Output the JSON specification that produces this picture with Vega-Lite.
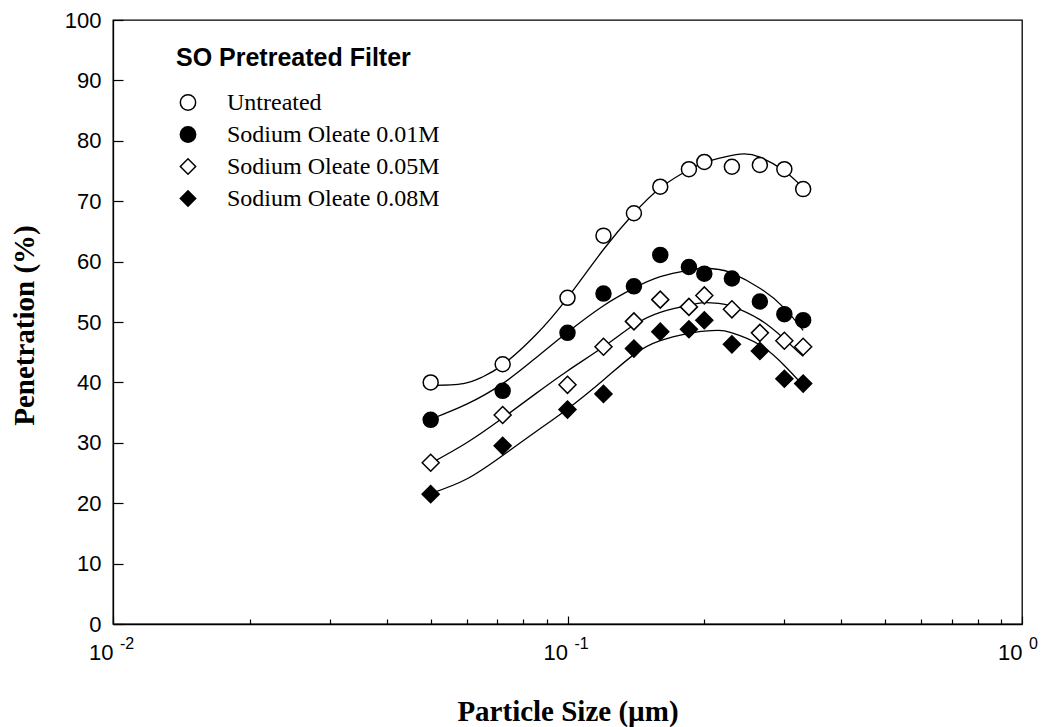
{
  "$schema": "https://vega.github.io/schema/vega-lite/v6.json",
  "width": 909,
  "height": 604,
  "autosize": {"type": "none"},
  "padding": {"left": 113, "top": 20, "right": 22, "bottom": 103},
  "background": "white",
  "config": {
    "view": {"stroke": "black", "strokeWidth": 1.3},
    "axis": {"domainColor": "black", "domainWidth": 1.3, "tickColor": "black", "tickWidth": 1.2, "labelColor": "black", "titleColor": "black", "grid": false},
    "legend": {
      "orient": "none",
      "legendX": 63,
      "legendY": 26,
      "padding": 0,
      "titleFont": "Liberation Sans",
      "titleFontSize": 25,
      "titleFontWeight": "bold",
      "titleColor": "black",
      "titlePadding": 19.5,
      "titleLimit": 0,
      "labelFont": "Liberation Serif",
      "labelFontSize": 24,
      "labelColor": "black",
      "labelLimit": 0,
      "labelOffset": 27,
      "rowPadding": 8,
      "symbolSize": 235,
      "symbolStrokeWidth": 1.5
    }
  },
  "datasets": {
    "points": [
      {"size_um": 0.05, "pen": 40.0, "series": "Untreated"},
      {"size_um": 0.072, "pen": 43.0, "series": "Untreated"},
      {"size_um": 0.1, "pen": 54.0, "series": "Untreated"},
      {"size_um": 0.12, "pen": 64.3, "series": "Untreated"},
      {"size_um": 0.14, "pen": 68.0, "series": "Untreated"},
      {"size_um": 0.16, "pen": 72.4, "series": "Untreated"},
      {"size_um": 0.185, "pen": 75.3, "series": "Untreated"},
      {"size_um": 0.2, "pen": 76.5, "series": "Untreated"},
      {"size_um": 0.23, "pen": 75.7, "series": "Untreated"},
      {"size_um": 0.265, "pen": 76.0, "series": "Untreated"},
      {"size_um": 0.3, "pen": 75.3, "series": "Untreated"},
      {"size_um": 0.33, "pen": 72.0, "series": "Untreated"},
      {"size_um": 0.05, "pen": 33.8, "series": "Sodium Oleate 0.01M"},
      {"size_um": 0.072, "pen": 38.6, "series": "Sodium Oleate 0.01M"},
      {"size_um": 0.1, "pen": 48.2, "series": "Sodium Oleate 0.01M"},
      {"size_um": 0.12, "pen": 54.7, "series": "Sodium Oleate 0.01M"},
      {"size_um": 0.14, "pen": 55.9, "series": "Sodium Oleate 0.01M"},
      {"size_um": 0.16, "pen": 61.1, "series": "Sodium Oleate 0.01M"},
      {"size_um": 0.185, "pen": 59.1, "series": "Sodium Oleate 0.01M"},
      {"size_um": 0.2, "pen": 58.0, "series": "Sodium Oleate 0.01M"},
      {"size_um": 0.23, "pen": 57.2, "series": "Sodium Oleate 0.01M"},
      {"size_um": 0.265, "pen": 53.4, "series": "Sodium Oleate 0.01M"},
      {"size_um": 0.3, "pen": 51.3, "series": "Sodium Oleate 0.01M"},
      {"size_um": 0.33, "pen": 50.3, "series": "Sodium Oleate 0.01M"},
      {"size_um": 0.05, "pen": 26.7, "series": "Sodium Oleate 0.05M"},
      {"size_um": 0.072, "pen": 34.6, "series": "Sodium Oleate 0.05M"},
      {"size_um": 0.1, "pen": 39.6, "series": "Sodium Oleate 0.05M"},
      {"size_um": 0.12, "pen": 45.9, "series": "Sodium Oleate 0.05M"},
      {"size_um": 0.14, "pen": 50.1, "series": "Sodium Oleate 0.05M"},
      {"size_um": 0.16, "pen": 53.7, "series": "Sodium Oleate 0.05M"},
      {"size_um": 0.185, "pen": 52.5, "series": "Sodium Oleate 0.05M"},
      {"size_um": 0.2, "pen": 54.4, "series": "Sodium Oleate 0.05M"},
      {"size_um": 0.23, "pen": 52.1, "series": "Sodium Oleate 0.05M"},
      {"size_um": 0.265, "pen": 48.2, "series": "Sodium Oleate 0.05M"},
      {"size_um": 0.3, "pen": 46.9, "series": "Sodium Oleate 0.05M"},
      {"size_um": 0.33, "pen": 45.9, "series": "Sodium Oleate 0.05M"},
      {"size_um": 0.05, "pen": 21.5, "series": "Sodium Oleate 0.08M"},
      {"size_um": 0.072, "pen": 29.5, "series": "Sodium Oleate 0.08M"},
      {"size_um": 0.1, "pen": 35.5, "series": "Sodium Oleate 0.08M"},
      {"size_um": 0.12, "pen": 38.1, "series": "Sodium Oleate 0.08M"},
      {"size_um": 0.14, "pen": 45.6, "series": "Sodium Oleate 0.08M"},
      {"size_um": 0.16, "pen": 48.4, "series": "Sodium Oleate 0.08M"},
      {"size_um": 0.185, "pen": 48.8, "series": "Sodium Oleate 0.08M"},
      {"size_um": 0.2, "pen": 50.3, "series": "Sodium Oleate 0.08M"},
      {"size_um": 0.23, "pen": 46.3, "series": "Sodium Oleate 0.08M"},
      {"size_um": 0.265, "pen": 45.2, "series": "Sodium Oleate 0.08M"},
      {"size_um": 0.3, "pen": 40.6, "series": "Sodium Oleate 0.08M"},
      {"size_um": 0.33, "pen": 39.8, "series": "Sodium Oleate 0.08M"}
    ],
    "curves": [
      {"size_um": 0.05, "pen": 39.5, "series": "Untreated"},
      {"size_um": 0.059, "pen": 39.8, "series": "Untreated"},
      {"size_um": 0.065, "pen": 40.9, "series": "Untreated"},
      {"size_um": 0.072, "pen": 42.9, "series": "Untreated"},
      {"size_um": 0.085, "pen": 47.8, "series": "Untreated"},
      {"size_um": 0.1, "pen": 54.0, "series": "Untreated"},
      {"size_um": 0.12, "pen": 62.0, "series": "Untreated"},
      {"size_um": 0.14, "pen": 68.0, "series": "Untreated"},
      {"size_um": 0.16, "pen": 72.2, "series": "Untreated"},
      {"size_um": 0.185, "pen": 75.2, "series": "Untreated"},
      {"size_um": 0.2, "pen": 76.4, "series": "Untreated"},
      {"size_um": 0.215, "pen": 77.1, "series": "Untreated"},
      {"size_um": 0.24, "pen": 77.8, "series": "Untreated"},
      {"size_um": 0.265, "pen": 77.3, "series": "Untreated"},
      {"size_um": 0.3, "pen": 75.0, "series": "Untreated"},
      {"size_um": 0.33, "pen": 72.2, "series": "Untreated"},
      {"size_um": 0.05, "pen": 33.9, "series": "Sodium Oleate 0.01M"},
      {"size_um": 0.06, "pen": 36.4, "series": "Sodium Oleate 0.01M"},
      {"size_um": 0.072, "pen": 39.8, "series": "Sodium Oleate 0.01M"},
      {"size_um": 0.085, "pen": 44.0, "series": "Sodium Oleate 0.01M"},
      {"size_um": 0.1, "pen": 48.3, "series": "Sodium Oleate 0.01M"},
      {"size_um": 0.12, "pen": 52.7, "series": "Sodium Oleate 0.01M"},
      {"size_um": 0.14, "pen": 55.6, "series": "Sodium Oleate 0.01M"},
      {"size_um": 0.16, "pen": 57.5, "series": "Sodium Oleate 0.01M"},
      {"size_um": 0.185, "pen": 58.6, "series": "Sodium Oleate 0.01M"},
      {"size_um": 0.2, "pen": 58.9, "series": "Sodium Oleate 0.01M"},
      {"size_um": 0.215, "pen": 58.7, "series": "Sodium Oleate 0.01M"},
      {"size_um": 0.23, "pen": 58.1, "series": "Sodium Oleate 0.01M"},
      {"size_um": 0.265, "pen": 55.6, "series": "Sodium Oleate 0.01M"},
      {"size_um": 0.3, "pen": 52.3, "series": "Sodium Oleate 0.01M"},
      {"size_um": 0.33, "pen": 48.6, "series": "Sodium Oleate 0.01M"},
      {"size_um": 0.05, "pen": 26.6, "series": "Sodium Oleate 0.05M"},
      {"size_um": 0.06, "pen": 30.0, "series": "Sodium Oleate 0.05M"},
      {"size_um": 0.072, "pen": 34.1, "series": "Sodium Oleate 0.05M"},
      {"size_um": 0.085, "pen": 38.1, "series": "Sodium Oleate 0.05M"},
      {"size_um": 0.1, "pen": 41.9, "series": "Sodium Oleate 0.05M"},
      {"size_um": 0.12, "pen": 45.9, "series": "Sodium Oleate 0.05M"},
      {"size_um": 0.14, "pen": 49.5, "series": "Sodium Oleate 0.05M"},
      {"size_um": 0.16, "pen": 51.6, "series": "Sodium Oleate 0.05M"},
      {"size_um": 0.185, "pen": 52.8, "series": "Sodium Oleate 0.05M"},
      {"size_um": 0.2, "pen": 53.2, "series": "Sodium Oleate 0.05M"},
      {"size_um": 0.215, "pen": 53.1, "series": "Sodium Oleate 0.05M"},
      {"size_um": 0.23, "pen": 52.6, "series": "Sodium Oleate 0.05M"},
      {"size_um": 0.265, "pen": 50.4, "series": "Sodium Oleate 0.05M"},
      {"size_um": 0.3, "pen": 47.2, "series": "Sodium Oleate 0.05M"},
      {"size_um": 0.33, "pen": 44.3, "series": "Sodium Oleate 0.05M"},
      {"size_um": 0.05, "pen": 21.6, "series": "Sodium Oleate 0.08M"},
      {"size_um": 0.06, "pen": 24.0, "series": "Sodium Oleate 0.08M"},
      {"size_um": 0.072, "pen": 27.9, "series": "Sodium Oleate 0.08M"},
      {"size_um": 0.085, "pen": 31.8, "series": "Sodium Oleate 0.08M"},
      {"size_um": 0.1, "pen": 35.6, "series": "Sodium Oleate 0.08M"},
      {"size_um": 0.12, "pen": 40.4, "series": "Sodium Oleate 0.08M"},
      {"size_um": 0.14, "pen": 44.6, "series": "Sodium Oleate 0.08M"},
      {"size_um": 0.16, "pen": 46.9, "series": "Sodium Oleate 0.08M"},
      {"size_um": 0.185, "pen": 48.1, "series": "Sodium Oleate 0.08M"},
      {"size_um": 0.2, "pen": 48.5, "series": "Sodium Oleate 0.08M"},
      {"size_um": 0.215, "pen": 48.6, "series": "Sodium Oleate 0.08M"},
      {"size_um": 0.23, "pen": 48.2, "series": "Sodium Oleate 0.08M"},
      {"size_um": 0.265, "pen": 46.2, "series": "Sodium Oleate 0.08M"},
      {"size_um": 0.3, "pen": 42.8, "series": "Sodium Oleate 0.08M"},
      {"size_um": 0.33, "pen": 39.5, "series": "Sodium Oleate 0.08M"}
    ],
    "exponents": [
      {"size_um": 0.01, "exp": "-2"},
      {"size_um": 0.1, "exp": "-1"},
      {"size_um": 1, "exp": "0"}
    ]
  },
  "layer": [
    {
      "data": {"name": "curves"},
      "mark": {"type": "line", "interpolate": "natural", "color": "black", "strokeWidth": 1.3},
      "encoding": {
        "x": {
          "field": "size_um",
          "type": "quantitative",
          "scale": {"type": "log", "domain": [0.01, 1], "nice": false},
          "axis": {
            "title": "Particle Size (µm)",
            "titleFont": "Liberation Serif",
            "titleFontSize": 29,
            "titleFontWeight": "bold",
            "titleX": 454.5,
            "titleY": 96,
            "titleAlign": "center",
            "titleBaseline": "alphabetic",
            "values": [0.01, 0.02, 0.03, 0.04, 0.05, 0.06, 0.07, 0.08, 0.09, 0.1, 0.2, 0.3, 0.4, 0.5, 0.6, 0.7, 0.8, 0.9, 1],
            "labelExpr": "abs(log(datum.value)/LN10 - round(log(datum.value)/LN10)) < 0.001 ? '10' : ''",
            "labelFont": "Liberation Sans",
            "labelFontSize": 22,
            "labelAlign": "right",
            "labelBaseline": "top",
            "labelDx": 6,
            "labelPadding": 26,
            "labelOverlap": false,
            "labelFlush": false,
            "labelBound": false,
            "tickSize": {"condition": {"test": "abs(log(datum.value)/LN10 - round(log(datum.value)/LN10)) < 0.001", "value": -8}, "value": -5}
          }
        },
        "y": {
          "field": "pen",
          "type": "quantitative",
          "scale": {"domain": [0, 100], "nice": false},
          "axis": {
            "title": "Penetration (%)",
            "titleFont": "Liberation Serif",
            "titleFontSize": 29,
            "titleFontWeight": "bold",
            "titleAngle": 270,
            "titleX": -80,
            "titleY": 305,
            "titleAlign": "center",
            "titleBaseline": "alphabetic",
            "values": [0, 10, 20, 30, 40, 50, 60, 70, 80, 90, 100],
            "labelFont": "Liberation Sans",
            "labelFontSize": 22,
            "labelPadding": 22,
            "tickSize": -10
          }
        },
        "detail": {"field": "series", "type": "nominal"}
      }
    },
    {
      "data": {"name": "points"},
      "transform": [{"filter": {"field": "series", "oneOf": ["Untreated", "Sodium Oleate 0.01M"]}}],
      "mark": {"type": "point", "filled": true, "strokeWidth": 1.5, "opacity": 1, "size": 225},
      "encoding": {
        "x": {"field": "size_um", "type": "quantitative"},
        "y": {"field": "pen", "type": "quantitative"},
        "shape": {
          "field": "series",
          "type": "nominal",
          "title": "SO Pretreated Filter",
          "scale": {"domain": ["Untreated", "Sodium Oleate 0.01M", "Sodium Oleate 0.05M", "Sodium Oleate 0.08M"], "range": ["circle", "circle", "diamond", "diamond"]}
        },
        "fill": {
          "field": "series",
          "type": "nominal",
          "title": "SO Pretreated Filter",
          "scale": {"domain": ["Untreated", "Sodium Oleate 0.01M", "Sodium Oleate 0.05M", "Sodium Oleate 0.08M"], "range": ["white", "black", "white", "black"]}
        },
        "stroke": {
          "field": "series",
          "type": "nominal",
          "title": "SO Pretreated Filter",
          "scale": {"domain": ["Untreated", "Sodium Oleate 0.01M", "Sodium Oleate 0.05M", "Sodium Oleate 0.08M"], "range": ["black", "black", "black", "black"]}
        }
      }
    },
    {
      "data": {"name": "points"},
      "transform": [{"filter": {"field": "series", "oneOf": ["Sodium Oleate 0.05M", "Sodium Oleate 0.08M"]}}],
      "mark": {"type": "point", "filled": true, "strokeWidth": 1.5, "opacity": 1, "size": 289},
      "encoding": {
        "x": {"field": "size_um", "type": "quantitative"},
        "y": {"field": "pen", "type": "quantitative"},
        "shape": {"field": "series", "type": "nominal", "title": "SO Pretreated Filter"},
        "fill": {"field": "series", "type": "nominal", "title": "SO Pretreated Filter"},
        "stroke": {"field": "series", "type": "nominal", "title": "SO Pretreated Filter"}
      }
    },
    {
      "data": {"name": "exponents"},
      "mark": {"type": "text", "align": "left", "baseline": "alphabetic", "dx": 7, "dy": 25, "font": "Liberation Sans", "fontSize": 16, "fill": "black"},
      "encoding": {
        "x": {"field": "size_um", "type": "quantitative"},
        "y": {"datum": 0, "type": "quantitative"},
        "text": {"field": "exp", "type": "nominal"}
      }
    }
  ]
}
